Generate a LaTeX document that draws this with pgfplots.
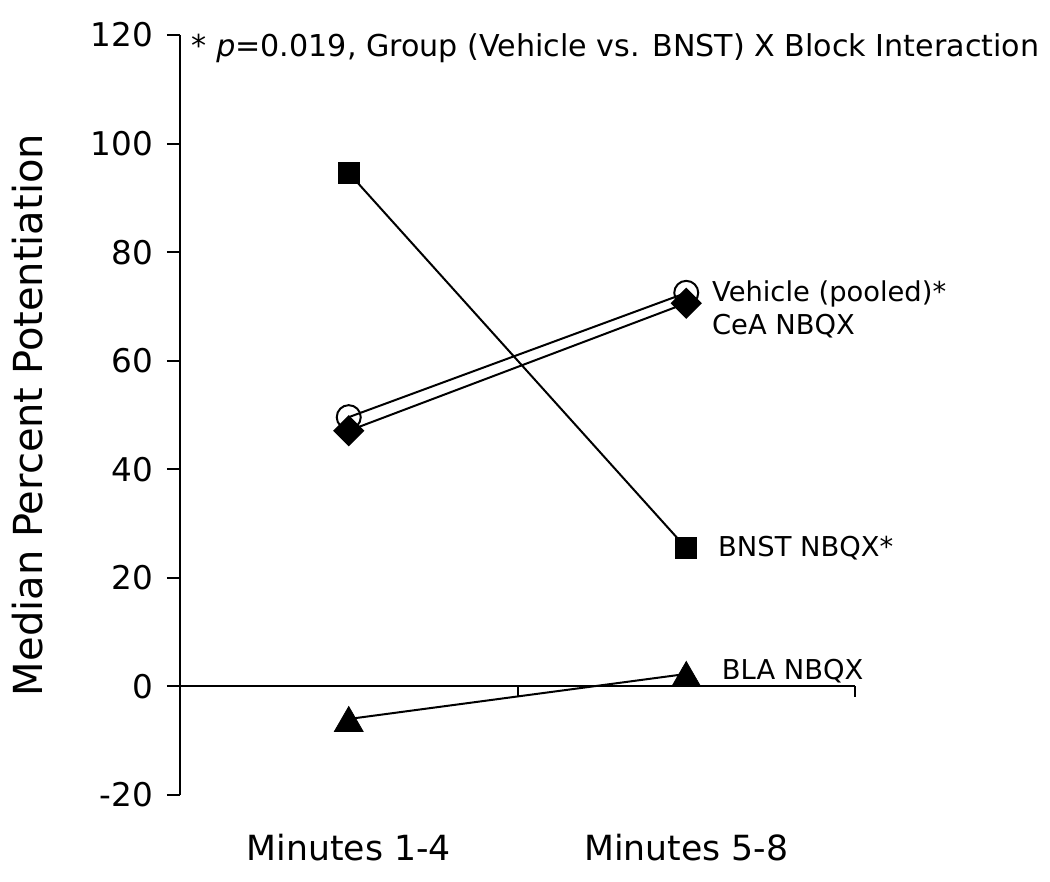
\documentclass[border=0pt]{standalone}
\usepackage{fontspec}
\setmainfont{DejaVu Sans}
\usepackage{pgfplots}
\pgfplotsset{compat=1.18}
\begin{document}
\begin{tikzpicture}
\begin{axis}[
  name=ax, at={(0,0)}, anchor=south west,
  scale only axis, width=506.25pt, height=570pt,
  xmin=0, xmax=2, ymin=-20, ymax=120,
  axis x line*=bottom, axis y line*=left,
  x axis line style={draw=none},
  y axis line style={line width=1.5pt},
  xtick={0.5,1.5}, xticklabels={Minutes 1-4, Minutes 5-8},
  xtick style={draw=none}, xtick align=inside,
  ytick={-20,0,20,40,60,80,100,120},
  yticklabels={-20,0,20,40,60,80,100,120},
  ytick style={line width=1.5pt, black},
  ytick align=outside, major tick length=9.75pt,
  yticklabel style={font=\fontsize{24.5}{28}\selectfont, anchor=east, xshift=-7pt},
  xticklabel style={font=\fontsize{26}{30}\selectfont, anchor=base, yshift=-48.75pt},
  ylabel={Median Percent Potentiation},
  ylabel style={font=\fontsize{30}{36}\selectfont, at={(axis description cs:-0.2252,0.5)}, anchor=center},
  clip=false,
  every axis plot/.append style={line width=1.5pt, black},
]
\draw[line width=1.5pt] (axis cs:0,0) -- (axis cs:2,0);
\draw[line width=1.5pt] (axis cs:1,0) -- ([yshift=-8pt]axis cs:1,0);
\draw[line width=1.5pt] (axis cs:2,0) -- ([yshift=-8pt]axis cs:2,0);

% BLA NBQX
\addplot[mark=triangle*, mark size=12.5pt, mark options={fill=black, line width=0.5pt, yshift=-3.1pt}]
  coordinates {(0.5,-6.0) (1.5,2.3)};
% BNST NBQX
\addplot[mark=square*, mark size=7.6pt, mark options={fill=black, line width=1pt}]
  coordinates {(0.5,94.6) (1.5,25.5)};
% Vehicle (pooled)
\addplot[mark=o, mark size=9pt, mark options={fill=white, line width=1.5pt}]
  coordinates {(0.5,49.6) (1.5,72.5)};
% CeA NBQX
\addplot[mark=square*, mark size=7.8pt, mark options={fill=black, rotate=45, line width=1pt}]
  coordinates {(0.5,47.1) (1.5,70.6)};

\node[anchor=base west, inner sep=0pt, font=\fontsize{22.6}{26}\selectfont] at (axis cs:0.034,116.1) {* \textit{p}=0.019, Group (Vehicle vs. BNST) X Block Interaction};
\node[anchor=base west, inner sep=0pt, font=\fontsize{20.5}{24}\selectfont] at (axis cs:1.576,70.9) {Vehicle (pooled)*};
\node[anchor=base west, inner sep=0pt, font=\fontsize{20.5}{24}\selectfont] at (axis cs:1.576,64.75) {CeA NBQX};
\node[anchor=base west, inner sep=0pt, font=\fontsize{20.5}{24}\selectfont] at (axis cs:1.594,23.9) {BNST NBQX*};
\node[anchor=base west, inner sep=0pt, font=\fontsize{20.5}{24}\selectfont] at (axis cs:1.605,1.2) {BLA NBQX};
\end{axis}
\pgfresetboundingbox
\path[use as bounding box] ([shift={(-135pt,-65.25pt)}]ax.south west) rectangle ([shift={(146.25pt,26.25pt)}]ax.north east);
\end{tikzpicture}
\end{document}
